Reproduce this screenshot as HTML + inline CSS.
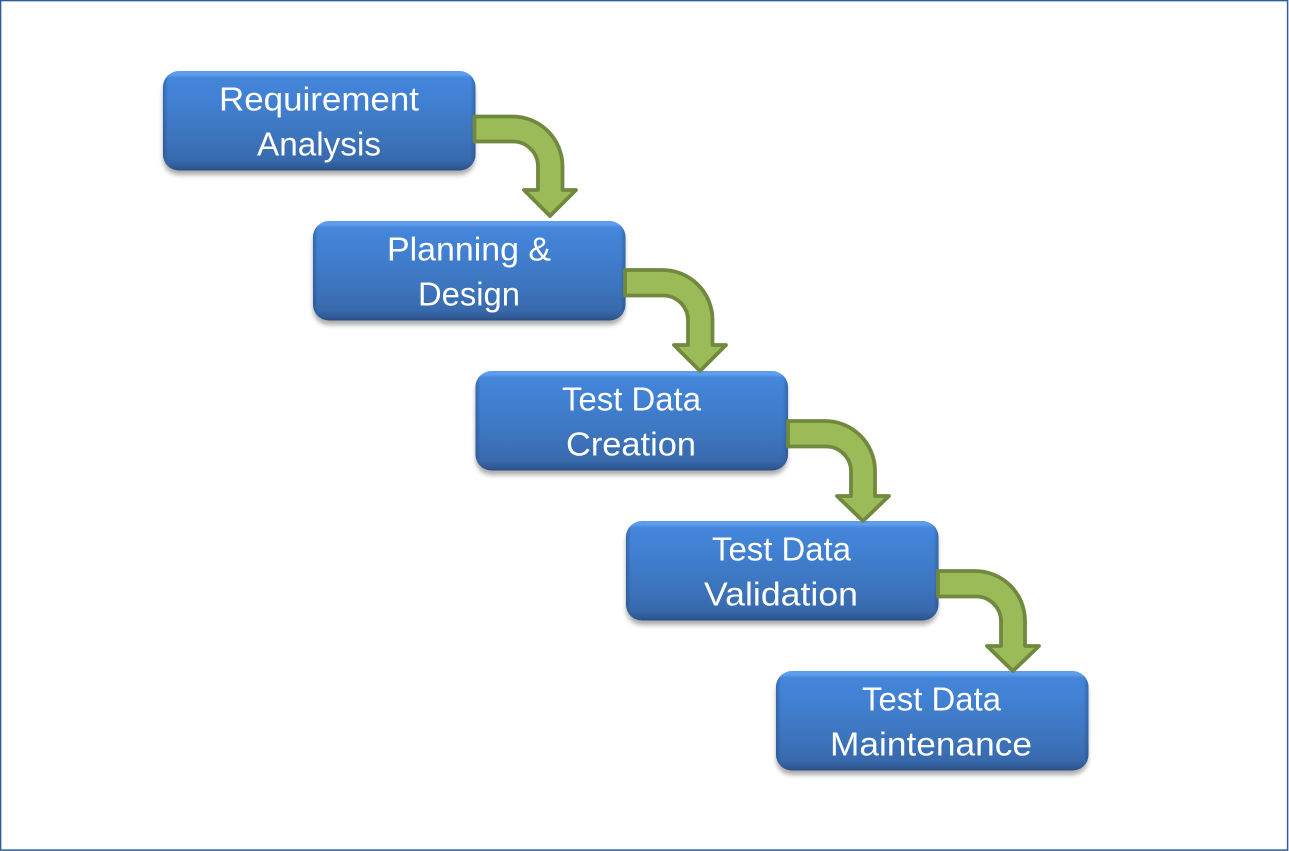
<!DOCTYPE html>
<html><head><meta charset="utf-8"><style>
html,body{margin:0;padding:0;background:#fff;width:1289px;height:851px;overflow:hidden}
svg{display:block}
text{font-family:"Liberation Sans",sans-serif;font-size:33px;fill:#fff;text-anchor:middle}
</style></head><body>
<svg width="1289" height="851" viewBox="0 0 1289 851" xmlns="http://www.w3.org/2000/svg">
<defs>
<linearGradient id="b" x1="0" y1="0" x2="0" y2="1">
<stop offset="0" stop-color="#5c9bea"/><stop offset=".03" stop-color="#5f9fee"/><stop offset=".07" stop-color="#4486da"/><stop offset=".3" stop-color="#4180d2"/><stop offset=".7" stop-color="#3c73bb"/><stop offset=".9" stop-color="#3869ac"/><stop offset=".96" stop-color="#315c99"/><stop offset="1" stop-color="#2b4f84"/>
</linearGradient>
<linearGradient id="e" x1="0" y1="0" x2="1" y2="0">
<stop offset="0" stop-color="#1f4476" stop-opacity=".45"/><stop offset=".016" stop-color="#1f4476" stop-opacity="0"/><stop offset=".984" stop-color="#1f4476" stop-opacity="0"/><stop offset="1" stop-color="#1f4476" stop-opacity=".45"/>
</linearGradient>
<filter id="s" x="-5%" y="-10%" width="110%" height="130%"><feGaussianBlur stdDeviation="2.5"/></filter>
<g id="box">
<rect x="0" y="5" width="312" height="99" rx="16" fill="#000" opacity=".32" filter="url(#s)"/>
<rect x="0" y="0" width="312.500" height="99.500" rx="16" fill="url(#b)"/>
<rect x="0" y="0" width="312.500" height="99.500" rx="16" fill="url(#e)"/>
</g>
</defs>
<rect width="1289" height="851" fill="#fff"/>
<rect x=".6" y=".6" width="1287" height="849.500" fill="none" stroke="#2f5d94" stroke-width="1.500"/>

<use href="#box" x="163" y="71"/>
<use href="#box" x="313" y="221"/>
<use href="#box" x="475.500" y="371"/>
<use href="#box" x="626" y="521"/>
<use href="#box" x="776" y="671"/>

<g fill="#9bbb59" stroke="#71893f" stroke-width="3.800" stroke-linejoin="round">
<path d="M474.500 116.500H512.500A50 50 0 0 1 562.500 166.500V190H576L550 216L524 190H538V166.500A25 25 0 0 0 513 141.500H474.500Z"/>
<path d="M625 270H662.500A50 50 0 0 1 712.500 320V345H726L700 371L674 345H688V320A25 25 0 0 0 663 295.500H625Z"/>
<path d="M788 421H825A50 50 0 0 1 875 471V496H889L863 521L837 496H851V471A25 25 0 0 0 826 446.500H788Z"/>
<path d="M938 571H975A50 50 0 0 1 1025 621V646H1039L1013 671L987 646H1001V621A25 25 0 0 0 976 596.500H938Z"/>
</g>

<text x="319" y="110.500" textLength="200" lengthAdjust="spacingAndGlyphs">Requirement</text>
<text x="319" y="155.500" textLength="124" lengthAdjust="spacingAndGlyphs">Analysis</text>
<text x="469" y="260.500" textLength="164" lengthAdjust="spacingAndGlyphs">Planning &amp;</text>
<text x="469" y="305.500" textLength="102" lengthAdjust="spacingAndGlyphs">Design</text>
<text x="631.500" y="410.500" textLength="139" lengthAdjust="spacingAndGlyphs">Test Data</text>
<text x="631" y="455.500" textLength="130" lengthAdjust="spacingAndGlyphs">Creation</text>
<text x="781.500" y="560.500" textLength="139" lengthAdjust="spacingAndGlyphs">Test Data</text>
<text x="781" y="605.500" textLength="154" lengthAdjust="spacingAndGlyphs">Validation</text>
<text x="931.500" y="710.500" textLength="139" lengthAdjust="spacingAndGlyphs">Test Data</text>
<text x="931" y="755.500" textLength="202" lengthAdjust="spacingAndGlyphs">Maintenance</text>
</svg>
</body></html>
